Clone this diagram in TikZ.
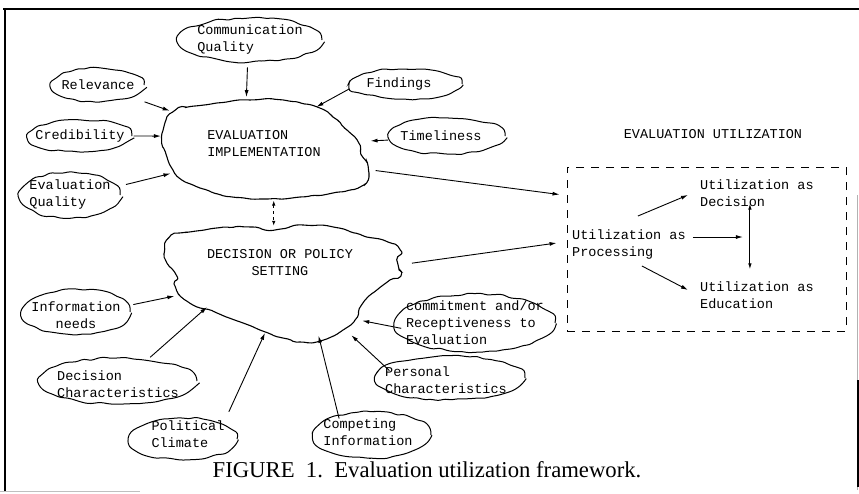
\documentclass[tikz,border=0pt]{standalone}
\usepackage{fontspec}
\setmainfont{Liberation Serif}
\setmonofont{Liberation Mono}
\usetikzlibrary{shapes.geometric,arrows.meta,decorations.pathmorphing,calc}
\begin{document}
\pgfmathsetseed{11}
\begin{tikzpicture}[x=1pt,y=-1pt,
  txt/.style={font=\ttfamily\fontsize{13.5}{17}\selectfont, align=left, inner sep=1pt},
  blob/.style={ellipse, draw, line width=1pt, inner sep=0pt,
    decorate, decoration={random steps,segment length=7pt,amplitude=1.4pt}, rounded corners=3pt},
  anch/.style={ellipse, inner sep=0pt},
  outline/.style={line width=1.1pt, rounded corners=2pt, decorate,
    decoration={random steps,segment length=6pt,amplitude=0.9pt}},
  arr/.style={line width=0.9pt, -{Latex[length=7pt,width=4pt]}},
  darr/.style={line width=0.9pt, dash pattern=on 3pt off 3pt, {Latex[length=5pt,width=3.5pt]}-{Latex[length=5pt,width=3.5pt]}},
  varr/.style={line width=0.9pt, {Latex[length=6pt,width=3.5pt]}-{Latex[length=6pt,width=3.5pt]}},
  frame/.style={line width=2.4pt}]
\useasboundingbox (0,0) rectangle (859,493);
\fill[white] (0,0) rectangle (859,493);
% frame
\draw[frame] (3,9) -- (859,9);
\draw[line width=2pt] (5,8) -- (5,491);
\draw[line width=0.6pt, black!30] (857.5,195) -- (857.5,490);
\draw[line width=2pt] (857.5,380) -- (857.5,487);
\draw[line width=0.8pt, black!25] (0,491) -- (140,491);

% big clouds (outlines) and anchor nodes
\draw[outline] plot[smooth cycle, tension=0.6] coordinates {(173,112) (183,108) (217,103) (250,100) (283,100) (317,107) (333,117) (347,130) (357,140) (359,150) (368,167) (363,185) (333,193) (300,197) (267,199) (233,197) (200,188) (182,180) (173,170) (167,157) (162,143) (165,123)};
\node[anch, minimum width=206, minimum height=99] (E) at (265,150) {};
\node[txt] (Et) at (264,144) {EVALUATION\\IMPLEMENTATION};

\draw[outline] plot[smooth cycle, tension=0.6] coordinates {(167,240) (183,233) (217,228) (250,227) (273,230) (300,225) (333,227) (367,237) (383,240) (398,247) (397,260) (403,270) (390,280) (377,290) (363,303) (357,317) (343,330) (323,340) (303,342) (283,338) (260,330) (243,323) (217,313) (190,303) (177,290) (177,277) (167,263) (165,253)};
\node[anch, minimum width=238, minimum height=116] (D) at (285,285) {};
\node[txt, align=center] (Dt) at (280,263) {DECISION OR POLICY\\SETTING};

% small clouds
\node[blob, minimum width=144, minimum height=44, label={[txt]center:Communication\\Quality}] (comq) at (250,40) {};
\node[blob, minimum width=92, minimum height=34, label={[txt]center:Relevance}] (relev) at (98,85) {};
\node[blob, minimum width=112, minimum height=30, label={[txt,xshift=-7pt]center:Findings}] (find) at (406,84) {};
\node[blob, minimum width=104, minimum height=32, label={[txt]center:Credibility}] (cred) at (80,136) {};
\node[blob, minimum width=116, minimum height=36, label={[txt,xshift=-6pt]center:Timeliness}] (time) at (447,136) {};
\node[blob, minimum width=100, minimum height=46, label={[txt]center:Evaluation\\Quality}] (evq) at (70,195) {};
\node[blob, minimum width=108, minimum height=46, label={[txt,align=center,yshift=-3pt]center:Information\\needs}] (info) at (76,312) {};
\node[blob, minimum width=158, minimum height=46, label={[txt,yshift=-3pt]center:Decision\\Characteristics}] (dchar) at (118,381) {};
\node[blob, minimum width=108, minimum height=42, label={[txt,xshift=5pt,yshift=5pt]center:Political\\Climate}] (pol) at (183,439) {};
\node[blob, minimum width=118, minimum height=46, label={[txt,xshift=-4pt,yshift=3pt]center:Competing\\Information}] (comp) at (372,435) {};
\node[blob, minimum width=150, minimum height=44, label={[txt,xshift=-4pt,yshift=-2pt]center:Personal\\Characteristics}] (pers) at (450,378) {};
\node[blob, minimum width=160, minimum height=58, label={[txt]center:commitment and/or\\Receptiveness to\\Evaluation}] (commit) at (475,323) {};

% utilization part
\node[txt] (eut) at (713,134) {EVALUATION UTILIZATION};
\node[draw, line width=0.9pt, dash pattern=on 8pt off 7pt, minimum width=279, minimum height=164, inner sep=0pt] (box) at (706.5,249) {};
\node[txt, anchor=west] (proc) at (571,245) {Utilization as\\Processing};
\node[txt, anchor=west] (dec) at (699,193) {Utilization as\\Decision};
\node[txt, anchor=west] (edu) at (699,295) {Utilization as\\Education};
\coordinate (in1) at ([shift={(-7,28)}]box.north west);
\coordinate (in2) at ([shift={(-10,-6)}]box.west);

% connectors into E
\draw[arr, shorten <=5pt, shorten >=4pt] (comq.-96) -- (E.111);
\draw[arr, shorten <=14pt, shorten >=19pt] (relev.-20) -- (E.157);
\draw[arr, shorten <=1pt, shorten >=5pt] (cred.east) -- (E.172);
\draw[arr, shorten <=9pt, shorten >=3pt] (evq.10) -- (E.194);
\draw[arr, shorten <=2pt, shorten >=0pt] (find.184) -- (E.40);
\draw[arr, shorten <=2pt, shorten >=4pt] (time.184) -- (E.5);
% E <-> D
\draw[darr, shorten <=1pt, shorten >=1pt] (E.-80) -- (E.-80 |- D.north);
% connectors into D
\draw[arr, shorten <=5pt, shorten >=-6pt] (info.7) -- (D.186);
\draw[arr, shorten <=3pt, shorten >=-21pt] (dchar.36) -- (D.201);
\draw[arr, shorten <=14pt, shorten >=-10pt] (pol.20) -- (D.247);
\draw[arr, shorten <=-3pt, shorten >=-5pt] (comp.150) -- (D.-58);
\draw[arr, shorten <=-6pt, shorten >=2pt] (pers.170) -- (D.-37);
\draw[arr, shorten <=-6pt, shorten >=-13pt] (commit.183) -- (D.-23);
% to utilization box
\draw[arr, shorten <=15pt] (E.-11) -- (in1);
\draw[arr, shorten <=15pt] (D.10) -- (in2);
% inside box
\draw[arr] ([shift={(9,-13)}]proc.north) -- ([shift={(-11,2)}]dec.west);
\coordinate (hs) at ([shift={(6,8)}]proc.north east);
\coordinate (vt) at ([shift={(-7,-4)}]dec.south);
\coordinate (vb) at ([shift={(-7,-11)}]edu.north);
\draw[varr] (vt) -- (vb);
\draw[arr] (hs) -- ([xshift=-7pt]hs -| vt);
\draw[arr] ([shift={(13,5)}]proc.south) -- ([shift={(-11,-5)}]edu.west);

% caption
\node[font=\fontsize{22.7}{27}\selectfont] (cap) at (427,470) {FIGURE\ \ 1.\ \ Evaluation utilization framework.};
\end{tikzpicture}
\end{document}
